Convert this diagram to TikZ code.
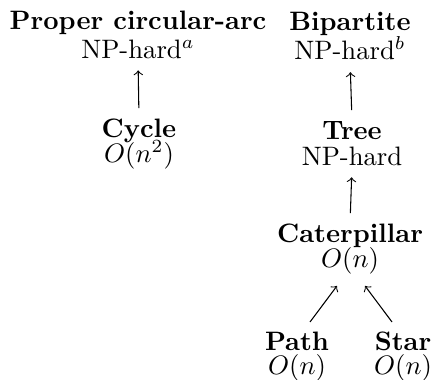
\documentclass[tikz,border=0pt]{standalone}
\usetikzlibrary{calc}
\begin{document}
\begin{tikzpicture}[x=0.375pt,y=-0.375pt,
  lbl/.style={align=center, inner sep=0pt, anchor=north},
  conn/.style={->, line width=0.4pt}]
\useasboundingbox (0,0) rectangle (432,379);
\node[lbl] (pca) at (138,10.5) {\textbf{Proper circular-arc}\\[-1.1pt]NP-hard$^a$};
\node[lbl] (bip) at (350,11.5) {\textbf{Bipartite}\\[-1.1pt]NP-hard$^b$};
\node[lbl] (cycle) at (139,118) {\textbf{Cycle}\\[-2.5pt]$O(n^2)$};
\node[lbl] (tree) at (352,121) {\textbf{Tree}\\[-2.25pt]NP-hard};
\node[lbl] (cat) at (350,223.5) {\textbf{Caterpillar}\\[-2.6pt]$O(n)$};
\node[lbl] (path) at (297,331.5) {\textbf{Path}\\[-3pt]$O(n)$};
\node[lbl] (star) at (403,331.5) {\textbf{Star}\\[-3pt]$O(n)$};
\draw[conn, shorten <=3.7pt, shorten >=4.1pt] (cycle.north) -- (pca.south);
\draw[conn, shorten <=4.1pt, shorten >=4.5pt] (tree.north) -- (bip.south);
\draw[conn, shorten <=3.9pt, shorten >=4.1pt] (cat.north) -- (tree.south);
\draw[conn] ($(path.north)+(13,-9.5)$) -- ($(cat.south)+(-13,11)$);
\draw[conn] ($(star.north)+(-11,-9.5)$) -- ($(cat.south)+(15,11)$);
\end{tikzpicture}
\end{document}
